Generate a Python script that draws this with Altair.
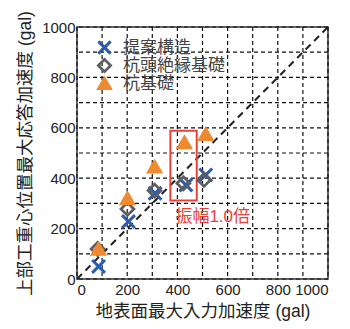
import altair as alt
import pandas as pd

series_names = ["提案構造", "杭頭絶縁基礎", "杭基礎"]
input_acc = {
    "提案構造":   [86, 205, 311, 434, 513],
    "杭頭絶縁基礎": [82, 201, 309, 424, 506],
    "杭基礎":     [86, 201, 309, 428, 513],
}
response_acc = {
    "提案構造":   [50, 228, 340, 373, 413],
    "杭頭絶縁基礎": [119, 278, 351, 380, 393],
    "杭基礎":     [119, 320, 446, 542, 575],
}
stroke_colors = ["#2A5CB0", "#5E5E5E", "#F08A30"]
fill_colors = ["transparent", "transparent", "#F08A30"]
stroke_widths = [3, 2.6, 0.5]
X_PATH = "M-1,-1L1,1M-1,1L1,-1"
shapes = [X_PATH, "diamond", "triangle-up"]

diag_x = [0, 1000]
box = {"x": [372], "x2": [477], "y": [312], "y2": [588]}
note = {"x": [392], "y": [248], "text": ["振幅1.0倍"]}

ticks = list(range(0, 1001, 200))
grid = list(range(0, 1001, 100))

FONT = "Liberation Sans, Noto Sans CJK JP"

rows = []
for s in series_names:
    for xv, yv in zip(input_acc[s], response_acc[s]):
        rows.append({"series": s, "x": xv, "y": yv})
df = pd.DataFrame(rows)

xs = alt.Scale(domain=[0, 1000], nice=False)
ys = alt.Scale(domain=[0, 1000], nice=False)

xaxis = alt.Axis(values=ticks, format="d", title="地表面最大入力加速度 (gal)", grid=False,
                 ticks=False, labelPadding=3, titlePadding=5)
yaxis = alt.Axis(values=ticks, format="d", title="上部工重心位置最大応答加速度 (gal)", grid=False,
                 ticks=False, labelPadding=2, titlePadding=7)

gdf = pd.DataFrame({"g": grid})
vgrid = alt.Chart(gdf).mark_rule(color="#111", strokeDash=[4, 3], strokeWidth=1.2).encode(
    x=alt.X("g:Q", scale=xs, axis=xaxis))
hgrid = alt.Chart(gdf).mark_rule(color="#111", strokeDash=[4, 3], strokeWidth=1.2).encode(
    y=alt.Y("g:Q", scale=ys, axis=yaxis))

diag = alt.Chart(pd.DataFrame({"x": diag_x, "y": diag_x})).mark_line(
    color="#222", strokeDash=[7, 5], strokeWidth=2).encode(
    x=alt.X("x:Q", scale=xs), y=alt.Y("y:Q", scale=ys))

pts = alt.Chart(df).mark_point(filled=False, size=165, opacity=1).encode(
    x=alt.X("x:Q", scale=xs),
    y=alt.Y("y:Q", scale=ys),
    shape=alt.Shape("series:N", sort=series_names,
                    scale=alt.Scale(domain=series_names, range=shapes), title=None),
    color=alt.Color("series:N", sort=series_names,
                    scale=alt.Scale(domain=series_names, range=stroke_colors), title=None),
    fill=alt.Fill("series:N", sort=series_names,
                  scale=alt.Scale(domain=series_names, range=fill_colors), title=None),
    strokeWidth=alt.StrokeWidth("series:N", sort=series_names,
                                scale=alt.Scale(domain=series_names, range=stroke_widths),
                                title=None),
)

rect = alt.Chart(pd.DataFrame(box)).mark_rect(fill="transparent", stroke="#E8413A",
                                              strokeWidth=2).encode(
    x=alt.X("x:Q", scale=xs), x2="x2:Q", y=alt.Y("y:Q", scale=ys), y2="y2:Q")

txt = alt.Chart(pd.DataFrame(note)).mark_text(color="#E8413A", fontSize=17, align="left",
                                              baseline="middle", font=FONT).encode(
    x=alt.X("x:Q", scale=xs), y=alt.Y("y:Q", scale=ys), text="text:N")

chart = alt.layer(vgrid, hgrid, diag, rect, txt, pts).properties(
    width=251, height=252,
    autosize=alt.AutoSizeParams(type="none"),
    padding={"left": 69, "top": 19, "right": 14, "bottom": 42},
).configure_view(stroke="#333", strokeWidth=1.5).configure_axis(
    labelFont=FONT, titleFont=FONT, labelFontSize=15, titleFontSize=17.5,
    labelColor="#222", titleColor="#222", titleFontWeight="normal", domain=False,
).configure_legend(
    orient="none", legendX=19, legendY=12, labelFont=FONT, labelFontSize=17,
    labelColor="#444", symbolSize=150, rowPadding=0,
    clipHeight=17, labelOffset=10, symbolOpacity=1, labelLimit=200,
)

chart.save("out.html", embed_options={"renderer": "svg", "actions": False})
